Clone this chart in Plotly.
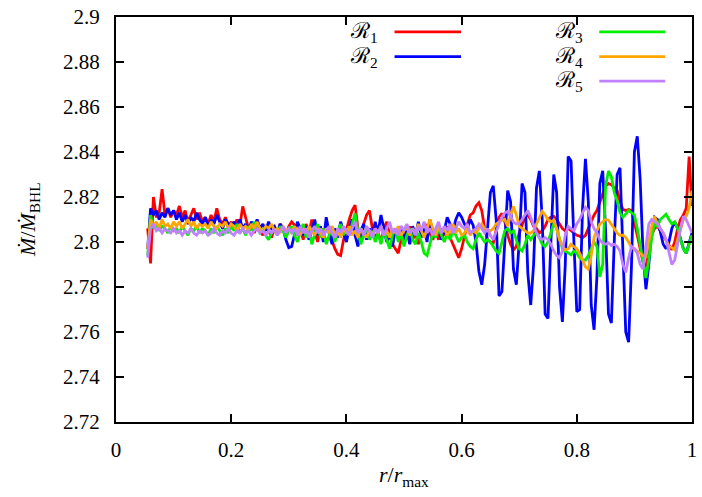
import plotly.graph_objects as go

# radial grid (uniform sampling in r/r_max)
X = [round(0.055 + 0.005 * i, 3) for i in range(190)]

R1 = [
    2.806, 2.7905, 2.820, 2.811, 2.813, 2.8235, 2.812, 2.815, 2.811, 2.814,
    2.812, 2.816, 2.811, 2.814, 2.809, 2.812, 2.815, 2.810, 2.813, 2.809,
    2.811, 2.808, 2.812, 2.809, 2.815, 2.810, 2.808, 2.811, 2.807, 2.809,
    2.806, 2.810, 2.807, 2.8158, 2.811, 2.806, 2.808, 2.804, 2.807, 2.805,
    2.803, 2.807, 2.805, 2.802, 2.806, 2.804, 2.808, 2.806, 2.803, 2.807,
    2.809, 2.8075, 2.803, 2.806, 2.801, 2.808, 2.804, 2.810, 2.805, 2.800,
    2.806, 2.802, 2.808, 2.804, 2.800, 2.797, 2.7945, 2.794, 2.801, 2.806,
    2.810, 2.814, 2.8164, 2.806, 2.801, 2.808, 2.812, 2.814, 2.806, 2.802,
    2.804, 2.800, 2.806, 2.809, 2.803, 2.799, 2.797, 2.795, 2.801, 2.806,
    2.803, 2.807, 2.801, 2.804, 2.799, 2.806, 2.803, 2.808, 2.804, 2.801,
    2.805, 2.801, 2.806, 2.803, 2.807, 2.802, 2.799, 2.796, 2.793, 2.797,
    2.803, 2.808, 2.812, 2.813, 2.816, 2.8175, 2.814, 2.806, 2.801, 2.800,
    2.7996, 2.806, 2.811, 2.8127, 2.809, 2.803, 2.799, 2.7965, 2.798, 2.804,
    2.808, 2.811, 2.812, 2.810, 2.807, 2.806, 2.804, 2.805, 2.807, 2.810,
    2.811, 2.8114, 2.810, 2.808, 2.806, 2.805, 2.806, 2.805, 2.804, 2.803,
    2.8026, 2.802, 2.803, 2.806, 2.809, 2.812, 2.814, 2.818, 2.822, 2.825,
    2.826, 2.8255, 2.824, 2.823, 2.818, 2.8145, 2.814, 2.8145, 2.814, 2.809,
    2.803, 2.797, 2.791, 2.789, 2.796, 2.803, 2.806, 2.807, 2.805, 2.803,
    2.801, 2.799, 2.7965, 2.800, 2.806, 2.810, 2.812, 2.815, 2.838, 2.816,
]

R2 = [
    2.797, 2.815, 2.812, 2.814, 2.810, 2.813, 2.811, 2.815, 2.812, 2.814,
    2.810, 2.813, 2.809, 2.812, 2.808, 2.811, 2.809, 2.813, 2.810, 2.808,
    2.811, 2.807, 2.810, 2.808, 2.812, 2.809, 2.806, 2.810, 2.808, 2.806,
    2.809, 2.807, 2.810, 2.806, 2.808, 2.805, 2.809, 2.807, 2.810, 2.806,
    2.808, 2.805, 2.809, 2.806, 2.807, 2.804, 2.808, 2.806, 2.801, 2.7975,
    2.798, 2.804, 2.809, 2.806, 2.803, 2.807, 2.801, 2.805, 2.810, 2.803,
    2.807, 2.800, 2.811, 2.804, 2.799, 2.806, 2.802, 2.809, 2.804, 2.800,
    2.806, 2.810, 2.803, 2.798, 2.805, 2.808, 2.801, 2.806, 2.803, 2.809,
    2.804, 2.812, 2.806, 2.800, 2.804, 2.798, 2.806, 2.803, 2.807, 2.801,
    2.805, 2.799, 2.807, 2.803, 2.809, 2.802, 2.806, 2.800, 2.810, 2.804,
    2.803, 2.806, 2.801, 2.805, 2.811, 2.808, 2.805, 2.810, 2.813, 2.811,
    2.808, 2.806, 2.810, 2.8075, 2.800, 2.787, 2.781, 2.790, 2.808, 2.822,
    2.825, 2.810, 2.776, 2.778, 2.800, 2.8228, 2.818, 2.788, 2.781, 2.800,
    2.826, 2.822, 2.786, 2.772, 2.790, 2.824, 2.8316, 2.810, 2.768, 2.766,
    2.800, 2.830, 2.822, 2.780, 2.7645, 2.790, 2.838, 2.836, 2.800, 2.769,
    2.770, 2.815, 2.837, 2.818, 2.772, 2.761, 2.785, 2.826, 2.8316, 2.805,
    2.768, 2.764, 2.800, 2.830, 2.833, 2.795, 2.760, 2.7555, 2.790, 2.840,
    2.847, 2.828, 2.795, 2.779, 2.790, 2.805, 2.811, 2.810, 2.804, 2.799,
    2.797, 2.800, 2.806, 2.809, 2.806, 2.801, 2.797, 2.795, 2.800, 2.804,
]

R3 = [
    2.794, 2.812, 2.806, 2.808, 2.805, 2.807, 2.806, 2.804, 2.807, 2.805,
    2.806, 2.804, 2.807, 2.805, 2.803, 2.806, 2.805, 2.807, 2.804, 2.806,
    2.805, 2.803, 2.806, 2.804, 2.807, 2.805, 2.803, 2.806, 2.804, 2.807,
    2.805, 2.808, 2.804, 2.806, 2.803, 2.807, 2.805, 2.809, 2.806, 2.804,
    2.806, 2.803, 2.801, 2.804, 2.806, 2.803, 2.807, 2.805, 2.802, 2.805,
    2.807, 2.803, 2.800, 2.805, 2.808, 2.802, 2.806, 2.799, 2.804, 2.808,
    2.802, 2.806, 2.799, 2.803, 2.807, 2.800, 2.805, 2.808, 2.803, 2.806,
    2.803, 2.808, 2.8127, 2.805, 2.799, 2.803, 2.807, 2.801, 2.805, 2.800,
    2.804, 2.799, 2.805, 2.801, 2.797, 2.803, 2.806, 2.800, 2.804, 2.798,
    2.803, 2.806, 2.801, 2.799, 2.804, 2.800, 2.795, 2.794, 2.799, 2.804,
    2.802, 2.806, 2.803, 2.800, 2.804, 2.801, 2.805, 2.803, 2.800, 2.802,
    2.803, 2.800, 2.798, 2.797, 2.801, 2.804, 2.802, 2.800, 2.801, 2.800,
    2.798, 2.796, 2.795, 2.800, 2.805, 2.806, 2.804, 2.805, 2.801, 2.797,
    2.796, 2.799, 2.803, 2.801, 2.803, 2.804, 2.802, 2.799, 2.798, 2.800,
    2.804, 2.8083, 2.806, 2.801, 2.797, 2.796, 2.795, 2.7943, 2.796, 2.795,
    2.793, 2.792, 2.792, 2.794, 2.797, 2.800, 2.798, 2.7845, 2.790, 2.825,
    2.8316, 2.829, 2.822, 2.8184, 2.813, 2.811, 2.8125, 2.814, 2.813, 2.812,
    2.806, 2.798, 2.790, 2.784, 2.792, 2.802, 2.808, 2.807, 2.810, 2.811,
    2.8123, 2.810, 2.808, 2.809, 2.806, 2.801, 2.797, 2.795, 2.799, 2.803,
]

R4 = [
    2.797, 2.810, 2.807, 2.809, 2.806, 2.810, 2.807, 2.808, 2.806, 2.809,
    2.807, 2.809, 2.806, 2.808, 2.810, 2.807, 2.809, 2.806, 2.808, 2.807,
    2.808, 2.806, 2.809, 2.807, 2.806, 2.808, 2.807, 2.809, 2.806, 2.808,
    2.807, 2.805, 2.808, 2.806, 2.807, 2.805, 2.808, 2.806, 2.809, 2.806,
    2.805, 2.807, 2.806, 2.808, 2.805, 2.806, 2.804, 2.807, 2.805, 2.806,
    2.804, 2.807, 2.805, 2.803, 2.806, 2.804, 2.807, 2.805, 2.803, 2.806,
    2.804, 2.802, 2.806, 2.804, 2.807, 2.803, 2.805, 2.802, 2.806, 2.804,
    2.807, 2.803, 2.805, 2.802, 2.806, 2.804, 2.802, 2.805, 2.803, 2.806,
    2.804, 2.807, 2.803, 2.805, 2.802, 2.806, 2.804, 2.807, 2.803, 2.805,
    2.807, 2.803, 2.806, 2.804, 2.808, 2.805, 2.802, 2.806, 2.810, 2.806,
    2.803, 2.807, 2.804, 2.806, 2.803, 2.805, 2.808, 2.804, 2.806, 2.803,
    2.804, 2.806, 2.803, 2.805, 2.804, 2.806, 2.808, 2.806, 2.805, 2.805,
    2.806, 2.808, 2.809, 2.8097, 2.810, 2.807, 2.812, 2.8158, 2.812, 2.807,
    2.806, 2.805, 2.804, 2.804, 2.805, 2.808, 2.811, 2.8136, 2.812, 2.810,
    2.809, 2.8097, 2.806, 2.801, 2.798, 2.7965, 2.797, 2.799, 2.798, 2.797,
    2.795, 2.792, 2.789, 2.788, 2.794, 2.802, 2.805, 2.808, 2.809, 2.810,
    2.8097, 2.808, 2.806, 2.804, 2.803, 2.803, 2.802, 2.800, 2.7975, 2.797,
    2.796, 2.795, 2.794, 2.7935, 2.800, 2.807, 2.8114, 2.808, 2.806, 2.804,
    2.801, 2.798, 2.7975, 2.7965, 2.801, 2.806, 2.810, 2.8114, 2.815, 2.8228,
]

R5 = [
    2.793, 2.806, 2.808, 2.805, 2.806, 2.804, 2.806, 2.805, 2.804, 2.806,
    2.804, 2.805, 2.803, 2.805, 2.804, 2.806, 2.804, 2.803, 2.805, 2.804,
    2.805, 2.803, 2.804, 2.806, 2.804, 2.803, 2.805, 2.804, 2.806, 2.804,
    2.803, 2.805, 2.804, 2.806, 2.804, 2.805, 2.803, 2.805, 2.806, 2.804,
    2.805, 2.803, 2.805, 2.804, 2.806, 2.803, 2.805, 2.807, 2.804, 2.806,
    2.804, 2.806, 2.803, 2.807, 2.804, 2.806, 2.802, 2.805, 2.807, 2.804,
    2.806, 2.803, 2.805, 2.807, 2.804, 2.802, 2.806, 2.804, 2.807, 2.805,
    2.803, 2.806, 2.809, 2.804, 2.806, 2.803, 2.807, 2.805, 2.802, 2.806,
    2.804, 2.807, 2.803, 2.806, 2.809, 2.804, 2.806, 2.803, 2.807, 2.805,
    2.808, 2.804, 2.806, 2.803, 2.807, 2.805, 2.809, 2.804, 2.806, 2.803,
    2.806, 2.809, 2.804, 2.807, 2.805, 2.808, 2.804, 2.806, 2.809, 2.807,
    2.806, 2.808, 2.804, 2.805, 2.806, 2.808, 2.806, 2.804, 2.806, 2.803,
    2.801, 2.805, 2.808, 2.811, 2.813, 2.8136, 2.811, 2.809, 2.808, 2.8083,
    2.810, 2.812, 2.814, 2.811, 2.807, 2.804, 2.802, 2.801, 2.802, 2.801,
    2.799, 2.796, 2.794, 2.793, 2.796, 2.803, 2.807, 2.806, 2.805, 2.808,
    2.810, 2.813, 2.8154, 2.814, 2.809, 2.806, 2.804, 2.801, 2.7995, 2.799,
    2.7996, 2.7985, 2.799, 2.798, 2.796, 2.790, 2.7865, 2.793, 2.798, 2.797,
    2.795, 2.790, 2.788, 2.798, 2.808, 2.810, 2.809, 2.808, 2.806, 2.804,
    2.801, 2.796, 2.790, 2.792, 2.800, 2.806, 2.8114, 2.810, 2.807, 2.804,
]

SERIES = [("ℛ<sub>1</sub>", R1), ("ℛ<sub>2</sub>", R2), ("ℛ<sub>3</sub>", R3),
          ("ℛ<sub>4</sub>", R4), ("ℛ<sub>5</sub>", R5)]
COLORS = ["#ff0000", "#0000ff", "#00ee00", "#ffa500", "#c080ff"]

X_TICKS = [0, 0.2, 0.4, 0.6, 0.8, 1]
Y_TICKS = [2.72, 2.74, 2.76, 2.78, 2.8, 2.82, 2.84, 2.86, 2.88, 2.9]

FONT = "Liberation Serif"

fig = go.Figure()
for (name, ys), col in zip(SERIES, COLORS):
    fig.add_trace(go.Scatter(x=X, y=ys, mode="lines", name=name,
                             line=dict(color=col, width=2.8), showlegend=False))

axis_common = dict(showgrid=False, zeroline=False, showline=True, linecolor="black",
                   linewidth=2, mirror="allticks", ticks="inside", ticklen=8,
                   tickwidth=1.5, tickcolor="black",
                   tickfont=dict(family=FONT, size=21, color="black"))
fig.update_xaxes(range=[0, 1], tickvals=X_TICKS, ticklabelstandoff=8,
                 ticktext=[f"{v:g}" for v in X_TICKS], **axis_common)
fig.update_yaxes(range=[2.72, 2.9], tickvals=Y_TICKS, ticklabelstandoff=10,
                 ticktext=[f"{v:g}" for v in Y_TICKS], **axis_common)

annotations = [
    dict(x=0.5, y=-0.095, xref="paper", yref="paper", showarrow=False,
         text="<i>r</i>/<i>r</i><sub>max</sub>", yanchor="top",
         font=dict(family=FONT, size=22, color="black")),
    dict(x=-0.152, y=0.5, xref="paper", yref="paper", showarrow=False,
         text="<i>Ṁ</i>/<i>Ṁ</i><sub>BHL</sub>", textangle=-90,
         xanchor="center", yanchor="middle",
         font=dict(family=FONT, size=22, color="black")),
]
shapes = []
# legend layout: (label right edge, line start, line end, row y) in paper units
LEG_POS = [(0.458, 0.4836, 0.599, 0.9634), (0.458, 0.4836, 0.599, 0.9024),
           (0.814, 0.839, 0.9535, 0.9634), (0.814, 0.839, 0.9535, 0.9024),
           (0.814, 0.839, 0.9535, 0.8415)]
for (name, _), col, (lx, x0, x1, yy) in zip(SERIES, COLORS, LEG_POS):
    annotations.append(dict(x=lx, y=yy, xref="paper", yref="paper", showarrow=False,
                            xanchor="right", yanchor="middle", text=name,
                            font=dict(family=FONT, size=22, color="black")))
    shapes.append(dict(type="line", xref="paper", yref="paper", x0=x0, x1=x1,
                       y0=yy, y1=yy, line=dict(color=col, width=2.8)))

fig.update_layout(width=702, height=497, margin=dict(l=116, r=5, t=12, b=75),
                  plot_bgcolor="white", paper_bgcolor="white",
                  annotations=annotations, shapes=shapes)
fig.write_html("out.html")
